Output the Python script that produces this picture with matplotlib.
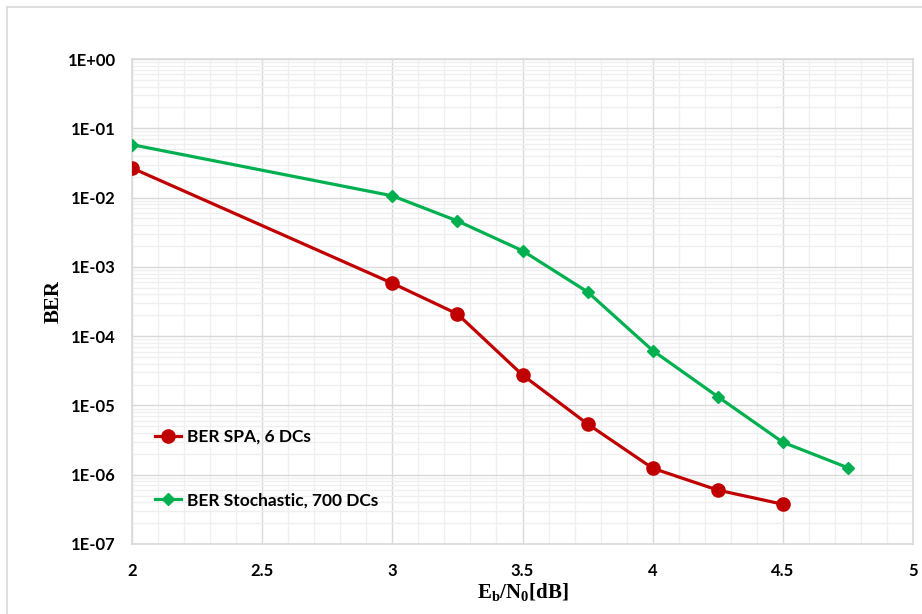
import matplotlib
matplotlib.use("Agg")
import matplotlib.pyplot as plt
from matplotlib.lines import Line2D

# Eb/N0 [dB] and BER
ebn0_spa = [2, 3, 3.25, 3.5, 3.75, 4, 4.25, 4.5]
ber_spa = [2.67e-2, 5.8e-4, 2.09e-4, 2.75e-5, 5.4e-6, 1.24e-6, 6.0e-7, 3.75e-7]
ebn0_sto = [2, 3, 3.25, 3.5, 3.75, 4, 4.25, 4.5, 4.75]
ber_sto = [5.8e-2, 1.06e-2, 4.6e-3, 1.71e-3, 4.35e-4, 6.2e-5, 1.34e-5, 2.94e-6, 1.26e-6]
labels = ["BER SPA, 6 DCs", "BER Stochastic, 700 DCs"]
yticks = [1e0, 1e-1, 1e-2, 1e-3, 1e-4, 1e-5, 1e-6, 1e-7]
ytick_labels = ["1E+00", "1E-01", "1E-02", "1E-03", "1E-04", "1E-05", "1E-06", "1E-07"]
xticks = [2, 2.5, 3, 3.5, 4, 4.5, 5]

plt.rcParams["font.family"] = ["Lato", "DejaVu Sans"]
plt.rcParams["mathtext.fontset"] = "custom"
plt.rcParams["mathtext.rm"] = "Liberation Serif:bold"
plt.rcParams["mathtext.bf"] = "Liberation Serif:bold"

fig = plt.figure(figsize=(9.22, 6.14), dpi=100)
ax = fig.add_axes([132 / 922, 70 / 614, 781 / 922, 485 / 614])

# chart-area border like the spreadsheet frame
fig.add_artist(Line2D([7 / 922, 7 / 922], [0, 1 - 7 / 614], color="#d9d9d9", lw=1.2))
fig.add_artist(Line2D([7 / 922, 1], [1 - 7 / 614, 1 - 7 / 614], color="#d9d9d9", lw=1.2))

ax.plot(ebn0_spa, ber_spa, color="#C00000", lw=2.3, marker="o", ms=9.5,
        label=labels[0], zorder=3)
ax.plot(ebn0_sto, ber_sto, color="#00B050", lw=2.3, marker="D", ms=6.5,
        label=labels[1], zorder=3)

ax.set_yscale("log")
ax.set_xlim(2, 5)
ax.set_ylim(1e-7, 1)
ax.set_xticks(xticks)
ax.set_xticklabels([f"{t:g}" for t in xticks])
ax.set_yticks(yticks)
ax.set_yticklabels(ytick_labels)
ax.set_xticks([2 + 0.1 * i for i in range(31)], minor=True)
ax.yaxis.set_minor_locator(matplotlib.ticker.LogLocator(base=10, subs=range(2, 10), numticks=20))
ax.yaxis.set_minor_formatter(matplotlib.ticker.NullFormatter())

ax.grid(which="major", color="#d9d9d9", lw=1.0)
ax.grid(which="minor", color="#efefef", lw=0.9)
ax.set_axisbelow(True)
ax.tick_params(which="both", length=0)
ax.tick_params(axis="y", pad=11.5)
ax.tick_params(axis="x", pad=14)
for lab in ax.get_xticklabels() + ax.get_yticklabels():
    lab.set_fontweight("bold")
    lab.set_fontsize(12)
for s in ax.spines.values():
    s.set_color("#d9d9d9")
    s.set_linewidth(1.2)

ax.set_xlabel(r"$\mathrm{E_b/N_0[dB]}$", fontsize=15, labelpad=1)
ax.set_ylabel("BER", family="Liberation Serif", fontweight="bold", fontsize=15)
ax.yaxis.set_label_coords(-68 / 781, 0.5)

leg = ax.legend(loc="upper left", bbox_to_anchor=(0.01, 0.27), frameon=False,
                labelspacing=2.75, handlelength=1.5, handletextpad=0.3,
                prop={"weight": "bold", "size": 12.5})

fig.savefig("out.png", dpi=100)
